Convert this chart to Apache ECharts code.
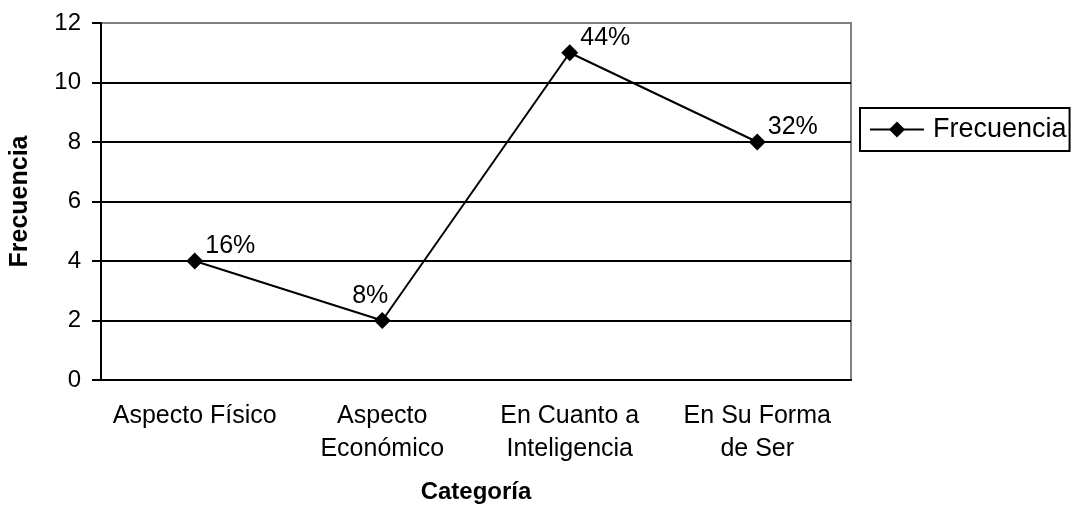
<!DOCTYPE html>
<html>
<head>
<meta charset="utf-8">
<script src="https://cdn.jsdelivr.net/npm/echarts@6/dist/echarts.min.js"></script>
<style>
  html, body { margin: 0; padding: 0; background: #fff; }
  #chart { width: 1073px; height: 513px; }
</style>
</head>
<body>
<div id="chart"></div>
<script>
// datos
var categorias = ['Aspecto Físico', 'Aspecto\nEconómico', 'En Cuanto a\nInteligencia', 'En Su Forma\nde Ser'];
var frecuencia = [4, 2, 11, 8];
var porcentajes = ['16%', '8%', '44%', '32%'];
var yTicks = [0, 2, 4, 6, 8, 10, 12];

var fuente = '"Liberation Sans", Arial, sans-serif';

var chart = echarts.init(document.getElementById('chart'));

// el punto de 8% lleva la etiqueta arriba a la izquierda
var puntos = frecuencia.map(function (v, i) {
    if (i == 1) {
        return { value: v, label: { position: 'top', offset: [-12, 0], distance: 3 } };
    }
    return v;
});

var option = {
    animation: false,
    textStyle: { fontFamily: fuente, color: '#000' },
    grid: {
        left: 100,
        right: 222,
        top: 23,
        bottom: 133,
        show: true,
        borderColor: '#808080',
        borderWidth: 2
    },
    legend: {
        left: 860,
        top: 108,
        padding: [8, 3, 8, 9],
        borderColor: '#000',
        borderWidth: 2,
        itemWidth: 54,
        itemHeight: 20,
        textStyle: { fontSize: 27, color: '#000', fontFamily: fuente, padding: [0, 0, 0, 4] },
        data: ['Frecuencia']
    },
    xAxis: {
        type: 'category',
        data: categorias,
        name: 'Categoría',
        nameLocation: 'middle',
        nameGap: 100,
        nameTextStyle: { fontSize: 24, fontWeight: 'bold', color: '#000', fontFamily: fuente },
        axisLine: { lineStyle: { color: '#000', width: 2 } },
        axisTick: { length: 7, lineStyle: { color: '#000', width: 2 } },
        axisLabel: { interval: 0, fontSize: 25, lineHeight: 33, margin: 20, color: '#000', fontFamily: fuente }
    },
    yAxis: {
        type: 'value',
        min: yTicks[0],
        max: yTicks[yTicks.length - 1],
        interval: 2,
        name: 'Frecuencia',
        nameLocation: 'middle',
        nameGap: 68,
        nameTextStyle: { fontSize: 25, fontWeight: 'bold', color: '#000', fontFamily: fuente },
        axisLine: { show: true, lineStyle: { color: '#000', width: 2 } },
        axisTick: { show: true, length: 9, lineStyle: { color: '#000', width: 2 } },
        axisLabel: { fontSize: 24, margin: 20, color: '#000', fontFamily: fuente },
        splitLine: {
            lineStyle: {
                color: ['#000', '#000', '#000', '#000', '#000', '#000', '#808080'],
                width: 2
            }
        }
    },
    series: [
        {
            name: 'Frecuencia',
            type: 'line',
            data: puntos,
            symbol: 'diamond',
            symbolSize: 17,
            lineStyle: { color: '#000', width: 2 },
            itemStyle: { color: '#000' },
            label: {
                show: true,
                position: 'right',
                distance: 2,
                offset: [0, -15],
                fontSize: 25,
                color: '#000',
                fontFamily: fuente,
                formatter: function (p) { return porcentajes[p.dataIndex]; }
            }
        }
    ]
};

chart.setOption(option);
</script>
</body>
</html>
